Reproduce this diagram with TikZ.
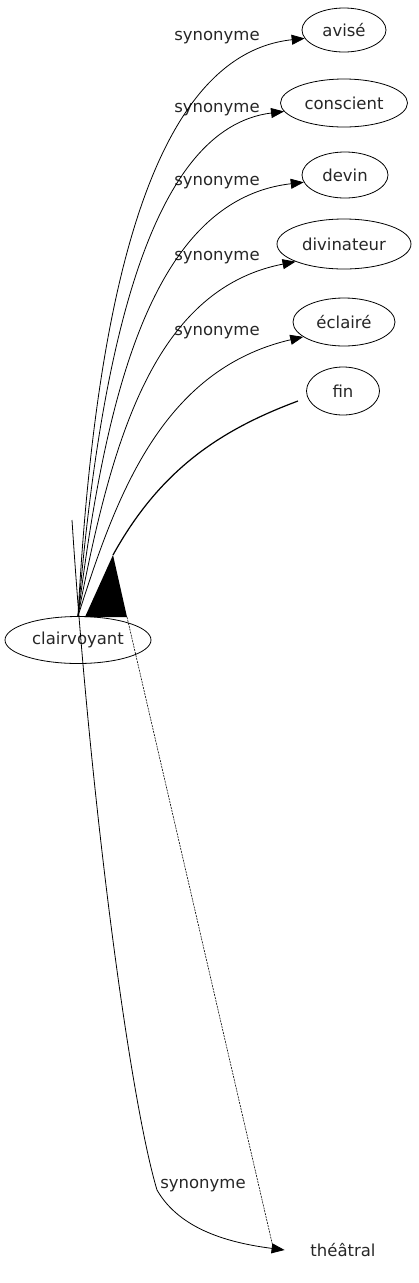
\documentclass[tikz,border=0pt]{standalone}
\usepackage{fontspec}
\setmainfont{DejaVu Sans}
\usetikzlibrary{shapes.geometric,arrows.meta}

\begin{document}
\begin{tikzpicture}[x=1pt, y=-1pt, ->, >={Triangle[length=13pt,width=10pt]}, line width=0.8pt,
    word/.style={ellipse, draw, inner sep=0pt, text=black!85, font=\fontsize{16.5}{19}\selectfont},
    syn/.style={inner sep=0pt, text=black!85, font=\fontsize{16.5}{19}\selectfont}]
    \useasboundingbox (0,0) rectangle (419,1283);

                % Nodes
                \node[word, minimum width=84pt, minimum height=44pt] (avise) at (344,30) {avisé};
                \node[word, minimum width=127pt, minimum height=48pt] (conscient) at (344,103) {conscient};
                \node[word, minimum width=86pt, minimum height=46pt] (devin) at (345,175) {devin};
                \node[word, minimum width=134pt, minimum height=50pt] (divinateur) at (344,244) {divinateur};
                \node[word, minimum width=102pt, minimum height=48pt] (eclaire) at (344,322) {éclairé};
                \node[word, minimum width=73pt, minimum height=48pt] (fin) at (343,391) {fin};
                \node[word, minimum width=146pt, minimum height=47pt] (clairvoyant) at (78,640) {clairvoyant};
                \node[word, draw=none, minimum width=116pt, minimum height=46pt] (theatral) at (343,1250) {théâtral};

                % Loose ends
                \coordinate (fintail) at (113,555);
                \coordinate (finleft) at (85,617);
                \coordinate (finright) at (127,617);
                \coordinate (theatraltail) at (72,520);
                \coordinate (theatralbend) at (157,1190);

                % Labels
                \node[syn] (l1) at (217,38) {synonyme};
                \node[syn] (l2) at (217,110) {synonyme};
                \node[syn] (l3) at (217,183) {synonyme};
                \node[syn] (l4) at (217,258) {synonyme};
                \node[syn] (l5) at (217,333) {synonyme};
                \node[syn] (l6) at (203,1186) {synonyme};

                % Transitions
                \draw (clairvoyant.north) .. controls (95,300) and (150,55) .. (avise.192);
                \draw (clairvoyant.north) .. controls (100,350) and (150,128) .. (conscient.188);
                \draw (clairvoyant.north) .. controls (105,400) and (150,200) .. (devin.190);
                \draw (clairvoyant.north) .. controls (110,450) and (150,290) .. (divinateur.200);
                \draw (clairvoyant.north) .. controls (115,500) and (160,370) .. (eclaire.200);
                \draw[-, line width=1.2pt] (fintail) .. controls (160,470) and (220,430) .. (298,401);
                \fill (fintail) -- (finleft) -- (finright) -- cycle;
                \draw (theatraltail) .. controls (90,800) and (130,1100) .. (theatralbend)
                    .. controls (180,1230) and (230,1243) .. (theatral.west);
                \draw[-, line width=0.6pt, dash pattern=on 2pt off 1pt] (finright) -- (273,1247);

            \end{tikzpicture}
\end{document}
